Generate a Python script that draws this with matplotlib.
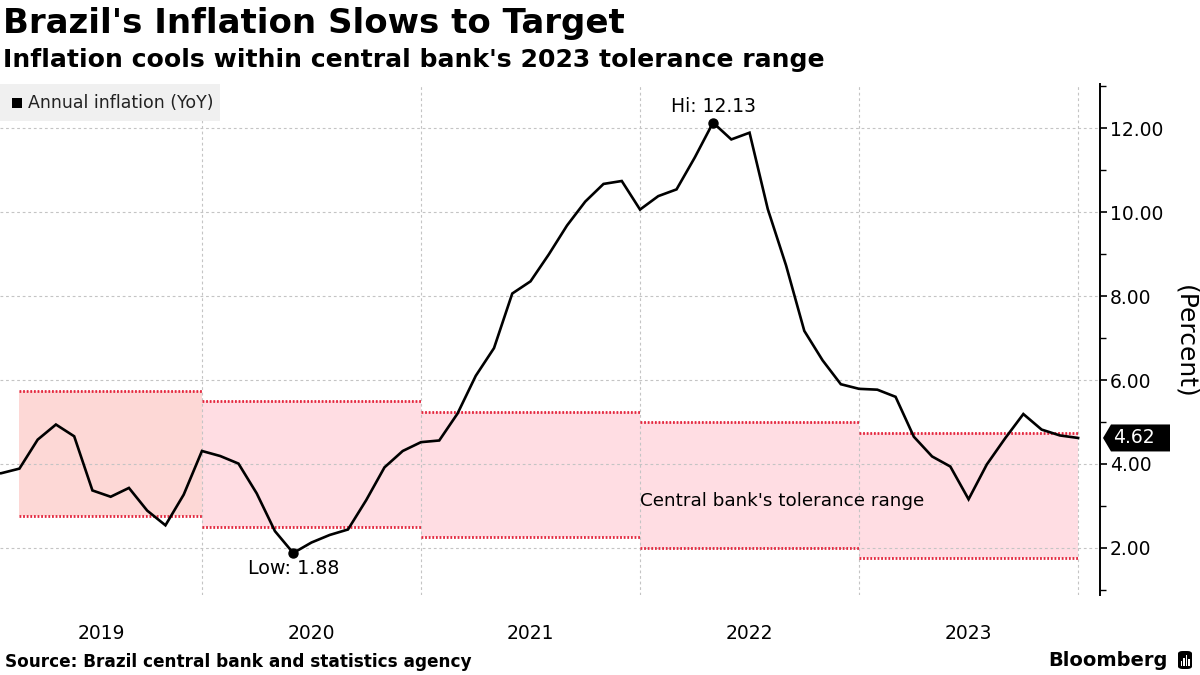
import matplotlib
matplotlib.use("Agg")
import matplotlib.pyplot as plt
import numpy as np
from matplotlib.patches import Rectangle, Polygon, FancyBboxPatch
from matplotlib.ticker import MultipleLocator, FormatStrFormatter

# ---------------- data ----------------
# Brazil IPCA, annual inflation (YoY), monthly, Dec 2018 .. Dec 2023
start_year, start_month = 2018, 12
inflation = [
    3.75,                                                   # Dec 2018
    3.78, 3.89, 4.58, 4.94, 4.66, 3.37, 3.22, 3.43, 2.89, 2.54, 3.27, 4.31,   # 2019
    4.19, 4.01, 3.30, 2.40, 1.88, 2.13, 2.31, 2.44, 3.14, 3.92, 4.31, 4.52,   # 2020
    4.56, 5.20, 6.10, 6.76, 8.06, 8.35, 8.99, 9.68, 10.25, 10.67, 10.74, 10.06,  # 2021
    10.38, 10.54, 11.30, 12.13, 11.73, 11.89, 10.07, 8.73, 7.17, 6.47, 5.90, 5.79,  # 2022
    5.77, 5.60, 4.65, 4.18, 3.94, 3.16, 3.99, 4.61, 5.19, 4.82, 4.68, 4.62,   # 2023
]
band_years = [2019, 2020, 2021, 2022, 2023]
band_lower = [2.75, 2.50, 2.25, 2.00, 1.75]
band_upper = [5.75, 5.50, 5.25, 5.00, 4.75]
band_first_month = [2, 0, 0, 0, 0]   # 2019 band series begins at Feb 2019
year_labels = ["2019", "2020", "2021", "2022", "2023"]

# month-end positions as fractional years
n = len(inflation)
months = np.arange(n)
x = (start_year + (start_month - 1 + months + 1) / 12.0)
y = np.array(inflation)

# ---------------- figure ----------------
fig = plt.figure(figsize=(12, 6.75), dpi=100)
W, H = 1200, 675
ax_l, ax_r, ax_t, ax_b = 0, 1100, 84, 595
ax = fig.add_axes([ax_l / W, 1 - ax_b / H, (ax_r - ax_l) / W, (ax_b - ax_t) / H])

xmin, xmax = 2019.078, 2024.100
ymin, ymax = 0.88, 13.05
ax.set_xlim(xmin, xmax)
ax.set_ylim(ymin, ymax)

# grid
for v in range(2, 13, 2):
    ax.axhline(v, color="#c4c4c4", lw=0.8, ls=(0, (2.5, 2.5)), zorder=1)
for yr in range(2020, 2025):
    ax.axvline(yr, color="#c4c4c4", lw=0.8, ls=(0, (2.5, 2.5)), zorder=1)

# tolerance bands
for i, yr in enumerate(band_years):
    x0 = yr + band_first_month[i] / 12.0 if band_first_month[i] else float(yr)
    x1 = yr + 1.0
    fc = "#fdd8d6" if i == 0 else "#ffdde3"
    ax.fill_between([x0, x1], band_lower[i], band_upper[i], color=fc, lw=0, zorder=0.5)
    for lev in (band_lower[i], band_upper[i]):
        ax.plot([x0, x1], [lev, lev], color="#e3263d", lw=2.0,
                ls=(0, (0.65, 0.65)), solid_capstyle="butt", dash_capstyle="butt", zorder=2)

# main line
ax.plot(x, y, color="black", lw=1.9, zorder=4, solid_joinstyle="miter")

# hi / low
i_hi = int(np.argmax(y))
i_lo = int(np.argmin(y))
ax.plot([x[i_hi]], [y[i_hi]], "o", color="black", ms=6.5, zorder=5)
ax.plot([x[i_lo]], [y[i_lo]], "o", color="black", ms=6.5, zorder=5)
ax.annotate(f"Hi: {y[i_hi]:.2f}", (x[i_hi], y[i_hi]), xytext=(0, 4.5),
            textcoords="offset points", ha="center", va="bottom", fontsize=13.5, zorder=6)
ax.annotate(f"Low: {y[i_lo]:.2f}", (x[i_lo], y[i_lo]), xytext=(0, -4.5),
            textcoords="offset points", ha="center", va="top", fontsize=13.8, zorder=6)

ax.text(2022.0, 3.12, "Central bank's tolerance range", ha="left", va="center",
        fontsize=13.2, zorder=6)

# axes styling
for s in ("top", "left", "bottom"):
    ax.spines[s].set_visible(False)
ax.spines["right"].set_linewidth(1.4)
ax.yaxis.tick_right()
ax.yaxis.set_major_locator(MultipleLocator(2))
ax.yaxis.set_minor_locator(MultipleLocator(1))
ax.yaxis.set_major_formatter(FormatStrFormatter("%.2f"))
ax.tick_params(axis="y", which="major", direction="out", length=5, width=1.2,
               labelsize=13.5, pad=2)
ax.tick_params(axis="y", which="minor", direction="out", length=4, width=1.0)
ax.set_yticks([v for v in range(2, 13, 2)])
ax.set_xticks([])

# year labels
for i, lab in enumerate(year_labels):
    yr = int(lab)
    a = max(yr, xmin)
    b = min(yr + 1, xmax)
    ax.text((a + b) / 2, -0.076, lab, transform=ax.get_xaxis_transform(),
            ha="center", va="center", fontsize=13.5, clip_on=False)

# "(Percent)"
fig.text(1185 / W, 1 - 342 / H, "(Percent)", rotation=270, ha="center", va="center",
         fontsize=18)

# last value tag
last = y[-1]
trans = ax.get_yaxis_transform()
ax_w_px = ax_r - ax_l
def px_to_axfrac(px):
    return (px - ax_l) / ax_w_px
yc = last
h_val = 13.5 / 42.0
tag = Polygon([[px_to_axfrac(1103), yc],
               [px_to_axfrac(1111), yc + h_val],
               [px_to_axfrac(1170), yc + h_val],
               [px_to_axfrac(1170), yc - h_val],
               [px_to_axfrac(1111), yc - h_val]],
              closed=True, transform=trans, facecolor="black", edgecolor="none",
              clip_on=False, zorder=7)
ax.add_patch(tag)
ax.text(px_to_axfrac(1113), yc, f"{last:.2f}", transform=trans, color="white",
        ha="left", va="center", fontsize=13.5, clip_on=False, zorder=8)

# legend box
fig.patches.append(Rectangle((0, 1 - 121 / H), 220 / W, 37 / H, transform=fig.transFigure,
                             facecolor="#f0f0f0", edgecolor="none", zorder=0))
fig.patches.append(Rectangle((12 / W, 1 - 108 / H), 10 / W, 10 / H, transform=fig.transFigure,
                             facecolor="black", edgecolor="none", zorder=1))
fig.text(28 / W, 1 - 103 / H, "Annual inflation (YoY)", ha="left", va="center",
         fontsize=12.5, color="#222222")

# titles
fig.text(3 / W, 1 - 23 / H, "Brazil's Inflation Slows to Target", ha="left", va="center",
         fontsize=24.5, fontweight="bold")
fig.text(3 / W, 1 - 60 / H, "Inflation cools within central bank's 2023 tolerance range",
         ha="left", va="center", fontsize=18.1, fontweight="bold")

# footer
fig.text(5 / W, 1 - 662 / H, "Source: Brazil central bank and statistics agency",
         ha="left", va="center", fontsize=12.2, fontweight="bold")
fig.text(1168 / W, 1 - 660 / H, "Bloomberg", ha="right", va="center",
         fontsize=14, fontweight="bold")
fig.patches.append(FancyBboxPatch((1178 / W, 1 - 669 / H), 14 / W, 18 / H,
                                  boxstyle="round,pad=0,rounding_size=0.004",
                                  transform=fig.transFigure, facecolor="black",
                                  edgecolor="none"))
for k, hh in enumerate([5, 8, 11, 7]):
    fig.patches.append(Rectangle(((1180.5 + k * 2.6) / W, 1 - 666 / H), 1.4 / W, hh / H,
                                 transform=fig.transFigure, facecolor="white",
                                 edgecolor="none"))

fig.savefig("out.png", dpi=100)
